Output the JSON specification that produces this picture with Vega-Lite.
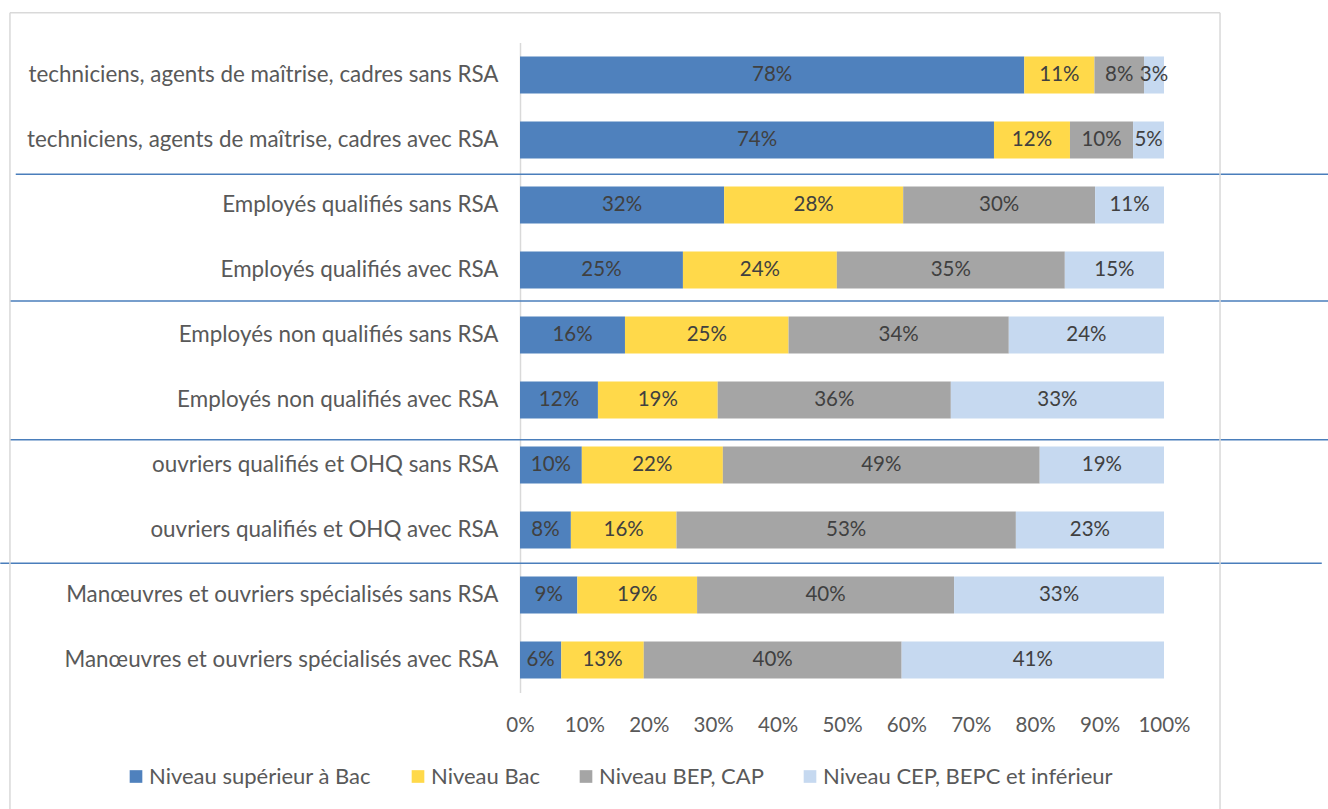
{
  "$schema": "https://vega.github.io/schema/vega-lite/v6.json",
  "autosize": "none",
  "width": 644,
  "height": 650,
  "padding": {"left": 520, "top": 42.5, "right": 164, "bottom": 116.5},
  "background": "white",
  "config": {
    "view": {"stroke": null},
    "font": "Lato",
    "text": {"font": "Lato"}
  },
  "data": {
    "values": [
      {"c": "techniciens, agents de maîtrise, cadres sans RSA", "n": "Niveau supérieur à Bac", "k": 1, "v": 0.783},
      {"c": "techniciens, agents de maîtrise, cadres sans RSA", "n": "Niveau Bac", "k": 2, "v": 0.109},
      {"c": "techniciens, agents de maîtrise, cadres sans RSA", "n": "Niveau BEP, CAP", "k": 3, "v": 0.077},
      {"c": "techniciens, agents de maîtrise, cadres sans RSA", "n": "Niveau CEP, BEPC et inférieur", "k": 4, "v": 0.031},
      {"c": "techniciens, agents de maîtrise, cadres avec RSA", "n": "Niveau supérieur à Bac", "k": 1, "v": 0.736},
      {"c": "techniciens, agents de maîtrise, cadres avec RSA", "n": "Niveau Bac", "k": 2, "v": 0.118},
      {"c": "techniciens, agents de maîtrise, cadres avec RSA", "n": "Niveau BEP, CAP", "k": 3, "v": 0.098},
      {"c": "techniciens, agents de maîtrise, cadres avec RSA", "n": "Niveau CEP, BEPC et inférieur", "k": 4, "v": 0.048},
      {"c": "Employés qualifiés sans RSA", "n": "Niveau supérieur à Bac", "k": 1, "v": 0.317},
      {"c": "Employés qualifiés sans RSA", "n": "Niveau Bac", "k": 2, "v": 0.278},
      {"c": "Employés qualifiés sans RSA", "n": "Niveau BEP, CAP", "k": 3, "v": 0.298},
      {"c": "Employés qualifiés sans RSA", "n": "Niveau CEP, BEPC et inférieur", "k": 4, "v": 0.107},
      {"c": "Employés qualifiés avec RSA", "n": "Niveau supérieur à Bac", "k": 1, "v": 0.253},
      {"c": "Employés qualifiés avec RSA", "n": "Niveau Bac", "k": 2, "v": 0.239},
      {"c": "Employés qualifiés avec RSA", "n": "Niveau BEP, CAP", "k": 3, "v": 0.354},
      {"c": "Employés qualifiés avec RSA", "n": "Niveau CEP, BEPC et inférieur", "k": 4, "v": 0.154},
      {"c": "Employés non qualifiés sans RSA", "n": "Niveau supérieur à Bac", "k": 1, "v": 0.163},
      {"c": "Employés non qualifiés sans RSA", "n": "Niveau Bac", "k": 2, "v": 0.254},
      {"c": "Employés non qualifiés sans RSA", "n": "Niveau BEP, CAP", "k": 3, "v": 0.342},
      {"c": "Employés non qualifiés sans RSA", "n": "Niveau CEP, BEPC et inférieur", "k": 4, "v": 0.241},
      {"c": "Employés non qualifiés avec RSA", "n": "Niveau supérieur à Bac", "k": 1, "v": 0.121},
      {"c": "Employés non qualifiés avec RSA", "n": "Niveau Bac", "k": 2, "v": 0.186},
      {"c": "Employés non qualifiés avec RSA", "n": "Niveau BEP, CAP", "k": 3, "v": 0.362},
      {"c": "Employés non qualifiés avec RSA", "n": "Niveau CEP, BEPC et inférieur", "k": 4, "v": 0.331},
      {"c": "ouvriers qualifiés et OHQ sans RSA", "n": "Niveau supérieur à Bac", "k": 1, "v": 0.096},
      {"c": "ouvriers qualifiés et OHQ sans RSA", "n": "Niveau Bac", "k": 2, "v": 0.219},
      {"c": "ouvriers qualifiés et OHQ sans RSA", "n": "Niveau BEP, CAP", "k": 3, "v": 0.492},
      {"c": "ouvriers qualifiés et OHQ sans RSA", "n": "Niveau CEP, BEPC et inférieur", "k": 4, "v": 0.193},
      {"c": "ouvriers qualifiés et OHQ avec RSA", "n": "Niveau supérieur à Bac", "k": 1, "v": 0.079},
      {"c": "ouvriers qualifiés et OHQ avec RSA", "n": "Niveau Bac", "k": 2, "v": 0.164},
      {"c": "ouvriers qualifiés et OHQ avec RSA", "n": "Niveau BEP, CAP", "k": 3, "v": 0.527},
      {"c": "ouvriers qualifiés et OHQ avec RSA", "n": "Niveau CEP, BEPC et inférieur", "k": 4, "v": 0.230},
      {"c": "Manœuvres et ouvriers spécialisés sans RSA", "n": "Niveau supérieur à Bac", "k": 1, "v": 0.089},
      {"c": "Manœuvres et ouvriers spécialisés sans RSA", "n": "Niveau Bac", "k": 2, "v": 0.186},
      {"c": "Manœuvres et ouvriers spécialisés sans RSA", "n": "Niveau BEP, CAP", "k": 3, "v": 0.399},
      {"c": "Manœuvres et ouvriers spécialisés sans RSA", "n": "Niveau CEP, BEPC et inférieur", "k": 4, "v": 0.326},
      {"c": "Manœuvres et ouvriers spécialisés avec RSA", "n": "Niveau supérieur à Bac", "k": 1, "v": 0.064},
      {"c": "Manœuvres et ouvriers spécialisés avec RSA", "n": "Niveau Bac", "k": 2, "v": 0.128},
      {"c": "Manœuvres et ouvriers spécialisés avec RSA", "n": "Niveau BEP, CAP", "k": 3, "v": 0.400},
      {"c": "Manœuvres et ouvriers spécialisés avec RSA", "n": "Niveau CEP, BEPC et inférieur", "k": 4, "v": 0.407}
    ]
  },
  "layer": [
    {
      "mark": {"type": "bar"},
      "encoding": {
        "y": {
          "field": "c",
          "type": "nominal",
          "sort": null,
          "scale": {
            "domain": [
              "techniciens, agents de maîtrise, cadres sans RSA",
              "techniciens, agents de maîtrise, cadres avec RSA",
              "Employés qualifiés sans RSA",
              "Employés qualifiés avec RSA",
              "Employés non qualifiés sans RSA",
              "Employés non qualifiés avec RSA",
              "ouvriers qualifiés et OHQ sans RSA",
              "ouvriers qualifiés et OHQ avec RSA",
              "Manœuvres et ouvriers spécialisés sans RSA",
              "Manœuvres et ouvriers spécialisés avec RSA"
            ],
            "paddingInner": 0.43,
            "paddingOuter": 0.215
          },
          "axis": {
            "title": null,
            "ticks": false,
            "domainColor": "#D9D9D9",
            "domainWidth": 1.5,
            "labelFont": "Lato",
            "labelFontSize": 22.4,
            "labelColor": "#595959",
            "labelPadding": 22,
            "labelLimit": 0
          }
        },
        "x": {
          "field": "v",
          "type": "quantitative",
          "stack": "normalize",
          "scale": {"domain": [0, 1], "nice": false},
          "axis": {
            "title": null,
            "format": ".0%",
            "values": [0, 0.1, 0.2, 0.3, 0.4, 0.5, 0.6, 0.7, 0.8, 0.9, 1],
            "grid": false,
            "domain": false,
            "ticks": false,
            "labelFont": "Lato",
            "labelFontSize": 20.5,
            "labelColor": "#595959",
            "labelPadding": 23,
            "labelFlush": false
          }
        },
        "color": {
          "field": "n",
          "type": "nominal",
          "scale": {
            "domain": ["Niveau supérieur à Bac", "Niveau Bac", "Niveau BEP, CAP", "Niveau CEP, BEPC et inférieur"],
            "range": ["#4F81BD", "#FFD94A", "#A5A5A5", "#C6D9F0"]
          },
          "legend": {
            "title": null,
            "orient": "none",
            "direction": "horizontal",
            "legendX": -395,
            "legendY": 723,
            "symbolType": "square",
            "symbolSize": 160,
            "symbolStrokeWidth": 0,
            "symbolOpacity": 1,
            "labelFont": "Lato",
            "labelFontSize": 22,
            "labelColor": "#595959",
            "labelOffset": 2,
            "labelLimit": 0,
            "columnPadding": 35
          }
        },
        "order": {"field": "k", "type": "quantitative"}
      }
    },
    {
      "mark": {"type": "text", "font": "Lato", "fontSize": 20.5, "color": "#404040", "baseline": "middle", "align": "center"},
      "encoding": {
        "y": {"field": "c", "type": "nominal", "sort": null},
        "x": {"field": "v", "type": "quantitative", "stack": "normalize", "bandPosition": 0.5},
        "text": {"field": "v", "type": "quantitative", "format": ".0%"},
        "order": {"field": "k", "type": "quantitative"}
      }
    },
    {
      "data": {"values": [{}]},
      "mark": {"type": "rule", "color": "#4A7EBB", "strokeWidth": 1.5},
      "encoding": {
        "y": {"datum": "Employés qualifiés sans RSA", "bandPosition": -0.33},
        "x": {"datum": -0.783},
        "x2": {"datum": 1.255}
      }
    },
    {
      "data": {"values": [{}]},
      "mark": {"type": "rule", "color": "#4A7EBB", "strokeWidth": 1.5},
      "encoding": {
        "y": {"datum": "Employés non qualifiés sans RSA", "bandPosition": -0.42},
        "x": {"datum": -0.792},
        "x2": {"datum": 1.255}
      }
    },
    {
      "data": {"values": [{}]},
      "mark": {"type": "rule", "color": "#4A7EBB", "strokeWidth": 1.5},
      "encoding": {
        "y": {"datum": "ouvriers qualifiés et OHQ sans RSA", "bandPosition": -0.18},
        "x": {"datum": -0.792},
        "x2": {"datum": 1.255}
      }
    },
    {
      "data": {"values": [{}]},
      "mark": {"type": "rule", "color": "#4A7EBB", "strokeWidth": 1.5},
      "encoding": {
        "y": {"datum": "Manœuvres et ouvriers spécialisés sans RSA", "bandPosition": -0.36},
        "x": {"datum": -0.807},
        "x2": {"datum": 1.245}
      }
    },
    {
      "data": {"values": [{}]},
      "mark": {"type": "rule", "color": "#D9D9D9", "strokeWidth": 1.5},
      "encoding": {
        "y": {"datum": "techniciens, agents de maîtrise, cadres sans RSA", "bandPosition": -1.18},
        "x": {"datum": -0.792},
        "x2": {"datum": 1.087}
      }
    },
    {
      "data": {"values": [{}]},
      "mark": {"type": "rule", "color": "#D9D9D9", "strokeWidth": 1.5, "y2Offset": 170},
      "encoding": {
        "x": {"datum": -0.792},
        "y": {"datum": "techniciens, agents de maîtrise, cadres sans RSA", "bandPosition": -1.18},
        "y2": {"datum": "Manœuvres et ouvriers spécialisés avec RSA"}
      }
    },
    {
      "data": {"values": [{}]},
      "mark": {"type": "rule", "color": "#D9D9D9", "strokeWidth": 1.5, "y2Offset": 170},
      "encoding": {
        "x": {"datum": 1.087},
        "y": {"datum": "techniciens, agents de maîtrise, cadres sans RSA", "bandPosition": -1.18},
        "y2": {"datum": "Manœuvres et ouvriers spécialisés avec RSA"}
      }
    }
  ]
}
